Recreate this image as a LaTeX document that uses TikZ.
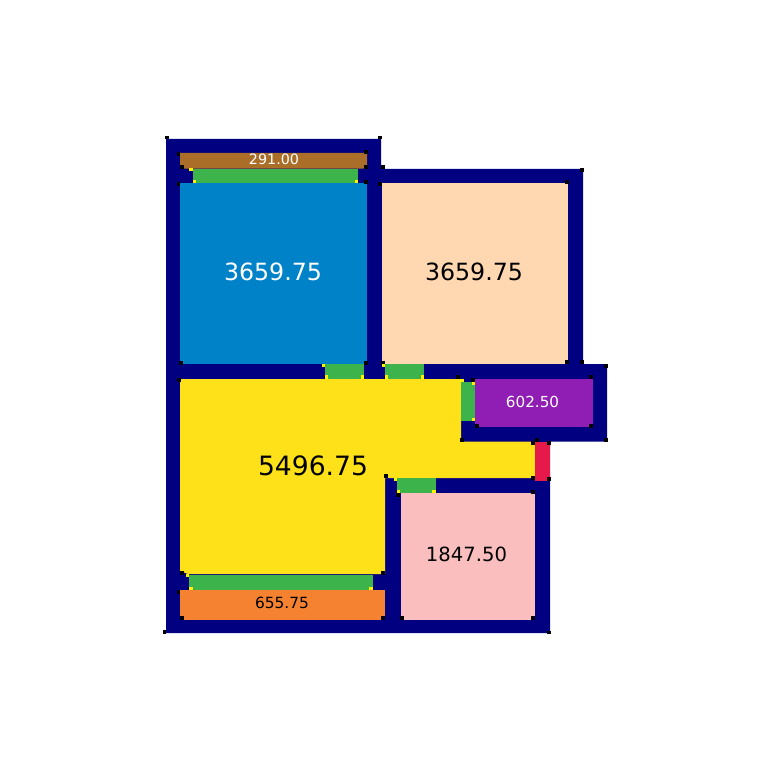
\documentclass[tikz,border=0pt]{standalone}
\usepackage{fontspec}
\setmainfont{DejaVu Sans}
\definecolor{wall}{HTML}{000080}
\definecolor{roomblue}{HTML}{0082C8}
\definecolor{roompeach}{HTML}{FFD8B1}
\definecolor{roomyellow}{HTML}{FFE119}
\definecolor{roomorange}{HTML}{F58231}
\definecolor{roompink}{HTML}{FABEBE}
\definecolor{roompurple}{HTML}{911EB4}
\definecolor{roombrown}{HTML}{AA6E28}
\definecolor{doorgreen}{HTML}{3CB44B}
\definecolor{doorred}{HTML}{E6194B}
\tikzset{
  blk/.style={fill=black,draw=none,minimum size=3.8pt,inner sep=0pt,rectangle},
  ylw/.style={fill=yellow,draw=none,minimum size=3.4pt,inner sep=0pt,rectangle},
  lab/.style={inner sep=0pt,font=\fontsize{#1}{#1}\selectfont}
}
\newcommand{\blks}[1]{\foreach \px/\py in {#1} {\node[blk] at (\px,\py) {};}}
\newcommand{\ylws}[1]{\foreach \px/\py in {#1} {\node[ylw] at (\px,\py) {};}}
\begin{document}
\begin{tikzpicture}[x=1pt,y=-1pt]
\useasboundingbox (0,0) rectangle (769,770);
\fill[white] (0,0) rectangle (769,770);
\fill[wall] (166,139) -- (381,139) -- (381,169) -- (583,169) -- (583,364) -- (607,364) -- (607,441.5) -- (550,441.5) -- (550,633) -- (166,633) -- cycle;
% rooms
\fill[roombrown] (180,153) -- (367,153) -- (367,168.7) -- (184,168.7) -- (180,165) -- cycle;
\fill[roomblue] (180,183) rectangle (367,364);
\fill[roompeach] (381.5,183) rectangle (568.2,364);
\fill[roomyellow] (180,379) -- (461,379) -- (461,441.5) -- (535,441.5) -- (535,478) -- (385,478) -- (385,574) -- (188,574) -- (180,571) -- cycle;
\fill[roomorange] (180,590) -- (385,590) -- (385,620) -- (180,620) -- cycle;
\fill[roompink] (400.5,493) rectangle (535,620);
\fill[roompurple] (475,378.5) rectangle (593,427);
% doors
\fill[doorgreen] (193,168.7) rectangle (358,183);
\fill[doorgreen] (325,364) rectangle (364,379);
\fill[doorgreen] (385,364) rectangle (424,379);
\fill[doorgreen] (461,382) rectangle (475,421);
\fill[doorgreen] (397,478) rectangle (436,493);
\fill[doorgreen] (189,574.5) rectangle (372.5,590);
\fill[doorred] (535,441.5) rectangle (550,481);
% corner markers
\blks{167/137.5,380/137.5,178.5/154,365.7/152,181.7/167,365.7/167,383.3/167,178.5/184.3,365.7/181.7,380/184.3,
181/362.7,178.7/380,581.7/170,566.7/181.7,
365.7/362.7,383.3/362.7,566.7/362.3,581.7/362.3,458.3/376.7,473.3/380,605.7/365.7,591.3/377.3,476.7/425.7,591.3/425.7,
462/440.3,605.7/440.3,536.7/440.3,533.3/443.3,548.7/443.3,533.3/477.7,548.7/479.3,533.3/491.7,
181.7/572.7,383.3/572.7,178.5/591.7,181.7/618.3,383.3/618.3,164.5/632.3,401.7/618.3,
386.3/476.3,398.3/495,533.3/618.3,549/632.5}
\ylws{191/169.7,194.3/181.7,356.3/181.7,323.3/365.7,326.3/377,362.3/377,383.3/365.7,386.3/377,422.3/377,
462/380.3,473.3/383.3,473.3/419.3,187.7/575.7,191/588.3,371/588.3,395.7/479.3,398.7/491.7,434/491.7}
% labels
\node[lab=14.3,text=white] (a) at (274,159.5) {291.00};
\node[lab=23.7,text=white] (b) at (273,271.8) {3659.75};
\node[lab=23.7,text=black] (c) at (474,271.8) {3659.75};
\node[lab=15.2,text=white] (d) at (532.5,401.6) {602.50};
\node[lab=26.6,text=black] (e) at (313,465.8) {5496.75};
\node[lab=19.6,text=black] (f) at (466.5,554.5) {1847.50};
\node[lab=15.4,text=black] (g) at (282,602.8) {655.75};
\end{tikzpicture}
\end{document}
